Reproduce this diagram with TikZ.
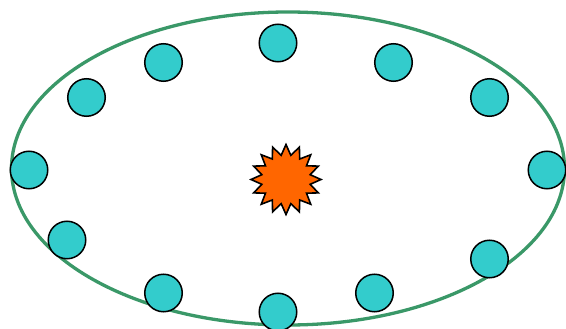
\documentclass[tikz,border=0pt]{standalone}
\usepackage{tikz}
\usetikzlibrary{shapes.geometric}

\definecolor{orbitgreen}{RGB}{58,152,104}
\definecolor{ballcyan}{RGB}{51,204,204}
\definecolor{sunorange}{RGB}{255,102,0}

\begin{document}
\begin{tikzpicture}[
    x=1pt, y=-1pt,
    orbit/.style={line width=3.3pt, orbitgreen},
    ball/.style={circle, draw=black, line width=1.5pt, fill=ballcyan,
        minimum size=37.5pt, inner sep=0pt},
    sun/.style={star, star points=16, star point ratio=1.42, draw=black,
        line width=1.6pt, fill=sunorange, minimum size=70pt, inner sep=0pt}
]
    \useasboundingbox (0,0) rectangle (566,329);

    \draw[orbit] (288,168.5) ellipse [x radius=276.5, y radius=156.5];

    \node[sun] (core) at (286,179.5) {};

    \node[ball] (b1) at (278,43) {};
    \node[ball] (b2) at (393.5,62.5) {};
    \node[ball] (b3) at (489.5,97.5) {};
    \node[ball] (b4) at (547,170) {};
    \node[ball] (b5) at (489.5,259) {};
    \node[ball] (b6) at (374.5,293) {};
    \node[ball] (b7) at (278,312) {};
    \node[ball] (b8) at (163.5,293) {};
    \node[ball] (b9) at (67,240) {};
    \node[ball] (b10) at (29,170) {};
    \node[ball] (b11) at (86.5,97.5) {};
    \node[ball] (b12) at (163.5,62.5) {};
\end{tikzpicture}
\end{document}
